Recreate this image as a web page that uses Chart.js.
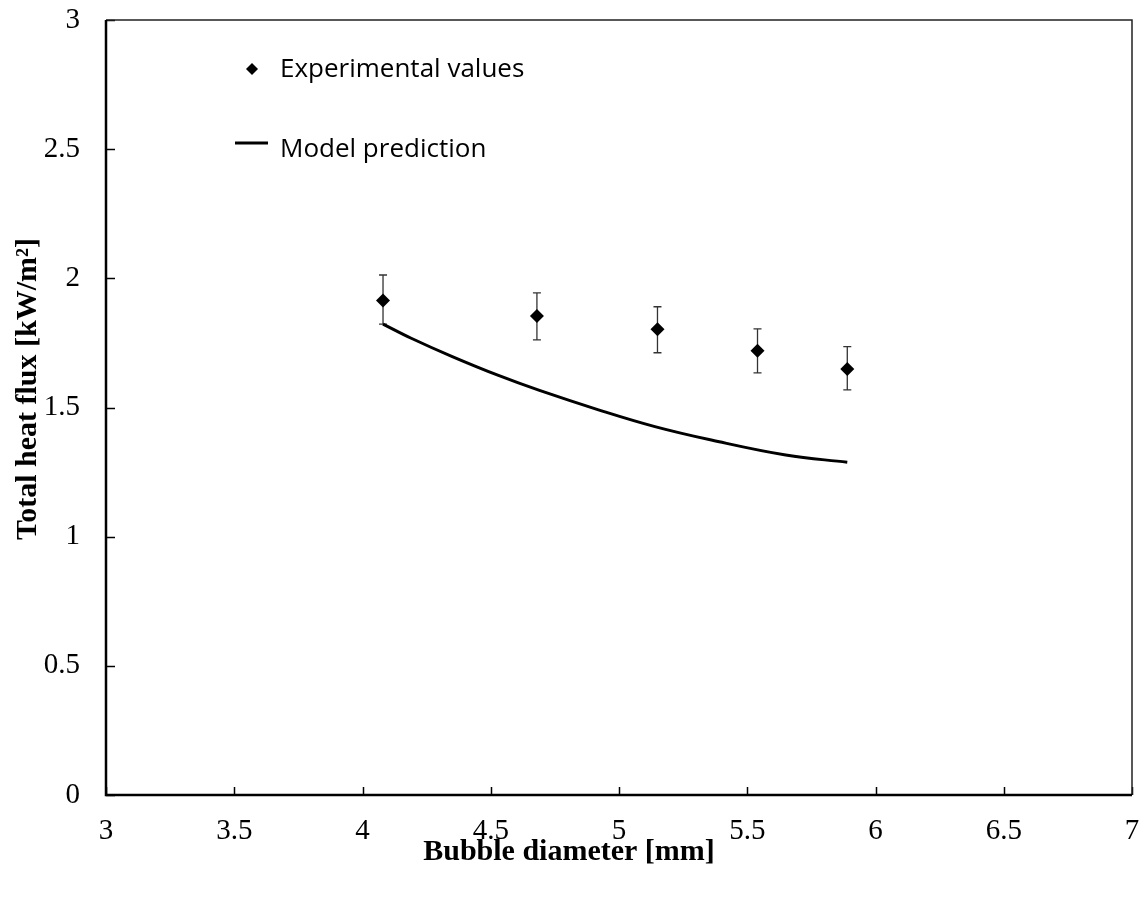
<!DOCTYPE html>
<html>
<head>
<meta charset="utf-8">
<script src="https://cdn.jsdelivr.net/npm/chart.js@4.4.1/dist/chart.umd.min.js"></script>
<style>
  html, body { margin: 0; padding: 0; background: #fff; }
  #wrap { width: 1142px; height: 897px; }
</style>
</head>
<body>
<div id="wrap"><canvas id="fluxChart" width="1142" height="897"></canvas></div>
<script>
// values
const expX = [4.08, 4.68, 5.15, 5.54, 5.89];
const expY = [1.914, 1.854, 1.803, 1.72, 1.649];
const errHigh = [2.013, 1.944, 1.89, 1.804, 1.736];
const errLow = [1.823, 1.762, 1.712, 1.634, 1.568];

const modelX = [4.08, 4.19, 4.35, 4.53, 4.69, 4.92, 5.14, 5.36, 5.65, 5.89];
const modelY = [1.823, 1.768, 1.697, 1.624, 1.566, 1.491, 1.426, 1.374, 1.316, 1.288];

const xTicks = [3, 3.5, 4, 4.5, 5, 5.5, 6, 6.5, 7];
const yTicks = [0, 0.5, 1, 1.5, 2, 2.5, 3];

const legendItems = ['Experimental values', 'Model prediction'];
const xTitle = 'Bubble diameter [mm]';
const yTitle = 'Total heat flux [kW/m²]';

const SERIF = '"Liberation Serif", "Times New Roman", serif';

const whiteBg = {
  id: 'whiteBg',
  beforeDraw(chart) {
    const c = chart.ctx;
    c.save();
    c.fillStyle = '#fff';
    c.fillRect(0, 0, chart.width, chart.height);
    c.restore();
  },
};

// frame + inward tick marks
const frame = {
  id: 'frame',
  afterDatasetsDraw(chart) {
    const { ctx, chartArea: a, scales } = chart;
    ctx.save();
    ctx.strokeStyle = '#000';
    ctx.lineWidth = 1.5;
    xTicks.forEach(v => {
      const px = Math.round(scales.x.getPixelForValue(v)) + 0.5;
      ctx.beginPath();
      ctx.moveTo(px, a.bottom);
      ctx.lineTo(px, a.bottom - 8);
      ctx.stroke();
    });
    yTicks.forEach(v => {
      const py = Math.round(scales.y.getPixelForValue(v)) + 0.5;
      ctx.beginPath();
      ctx.moveTo(a.left, py);
      ctx.lineTo(a.left + 9, py);
      ctx.stroke();
    });
    // top / right
    ctx.strokeStyle = '#222';
    ctx.lineWidth = 1.5;
    ctx.beginPath();
    ctx.moveTo(a.left, a.top);
    ctx.lineTo(a.right, a.top);
    ctx.lineTo(a.right, a.bottom);
    ctx.stroke();
    // left / bottom
    ctx.strokeStyle = '#000';
    ctx.lineWidth = 2.5;
    ctx.beginPath();
    ctx.moveTo(a.left, a.top);
    ctx.lineTo(a.left, a.bottom);
    ctx.lineTo(a.right, a.bottom);
    ctx.stroke();
    ctx.restore();
  },
};

const errorBars = {
  id: 'errorBars',
  beforeDatasetsDraw(chart) {
    const { ctx, scales } = chart;
    ctx.save();
    ctx.strokeStyle = '#333';
    ctx.lineWidth = 1.3;
    expX.forEach((x, i) => {
      const px = scales.x.getPixelForValue(x);
      const top = scales.y.getPixelForValue(errHigh[i]);
      const bot = scales.y.getPixelForValue(errLow[i]);
      ctx.beginPath();
      ctx.moveTo(px, top);
      ctx.lineTo(px, bot);
      ctx.moveTo(px - 4, top);
      ctx.lineTo(px + 4, top);
      ctx.moveTo(px - 4, bot);
      ctx.lineTo(px + 4, bot);
      ctx.stroke();
    });
    ctx.restore();
  },
};

const textBits = {
  id: 'textBits',
  afterDraw(chart) {
    const { ctx } = chart;
    ctx.save();
    // legend
    ctx.fillStyle = '#000';
    ctx.beginPath();
    ctx.moveTo(252, 63);
    ctx.lineTo(258, 69);
    ctx.lineTo(252, 75);
    ctx.lineTo(246, 69);
    ctx.closePath();
    ctx.fill();
    ctx.strokeStyle = '#000';
    ctx.lineWidth = 3;
    ctx.beginPath();
    ctx.moveTo(235, 143);
    ctx.lineTo(268, 143);
    ctx.stroke();
    ctx.font = '26px "Open Sans", sans-serif';
    ctx.textAlign = 'left';
    ctx.textBaseline = 'alphabetic';
    ctx.fillText(legendItems[0], 280, 77);
    ctx.fillText(legendItems[1], 280, 157);

    // axis titles
    ctx.font = 'bold 30px ' + SERIF;
    ctx.textAlign = 'center';
    ctx.textBaseline = 'middle';
    ctx.fillText(xTitle, 569, 852);
    ctx.translate(28, 389);
    ctx.rotate(-Math.PI / 2);
    ctx.fillText(yTitle, 0, 0);
    ctx.restore();
  },
};

new Chart(document.getElementById('fluxChart'), {
  type: 'scatter',
  data: {
    datasets: [
      {
        label: legendItems[1],
        data: modelX.map((x, i) => ({ x, y: modelY[i] })),
        showLine: true,
        borderColor: '#000',
        borderWidth: 3,
        pointRadius: 0,
        tension: 0.4,
        fill: false,
      },
      {
        label: legendItems[0],
        data: expX.map((x, i) => ({ x, y: expY[i] })),
        pointStyle: 'rectRot',
        pointRadius: 7,
        backgroundColor: '#000',
        borderColor: '#000',
        borderWidth: 0,
      },
    ],
  },
  options: {
    responsive: false,
    animation: false,
    layout: { padding: { top: 20, right: 10, left: 0, bottom: 0 } },
    plugins: { legend: { display: false }, tooltip: { enabled: false } },
    scales: {
      x: {
        type: 'linear',
        min: 3,
        max: 7,
        afterFit(scale) {
          scale.height = 102;
          scale.paddingLeft = 0;
          scale.paddingRight = 0;
        },
        afterBuildTicks(scale) { scale.ticks = xTicks.map(v => ({ value: v })); },
        grid: { display: false, drawTicks: false },
        border: { display: false },
        ticks: {
          color: '#000',
          padding: 19,
          font: { family: SERIF, size: 29 },
          maxRotation: 0,
          callback: v => String(v),
        },
      },
      y: {
        type: 'linear',
        min: 0,
        max: 3,
        afterFit(scale) {
          scale.width = 106;
          scale.paddingTop = 0;
          scale.paddingBottom = 0;
        },
        afterBuildTicks(scale) { scale.ticks = yTicks.map(v => ({ value: v })); },
        grid: { display: false, drawTicks: false },
        border: { display: false },
        ticks: {
          color: '#000',
          padding: 26,
          font: { family: SERIF, size: 29 },
          callback: v => String(v),
        },
      },
    },
  },
  plugins: [whiteBg, errorBars, frame, textBits],
});
</script>
</body>
</html>
